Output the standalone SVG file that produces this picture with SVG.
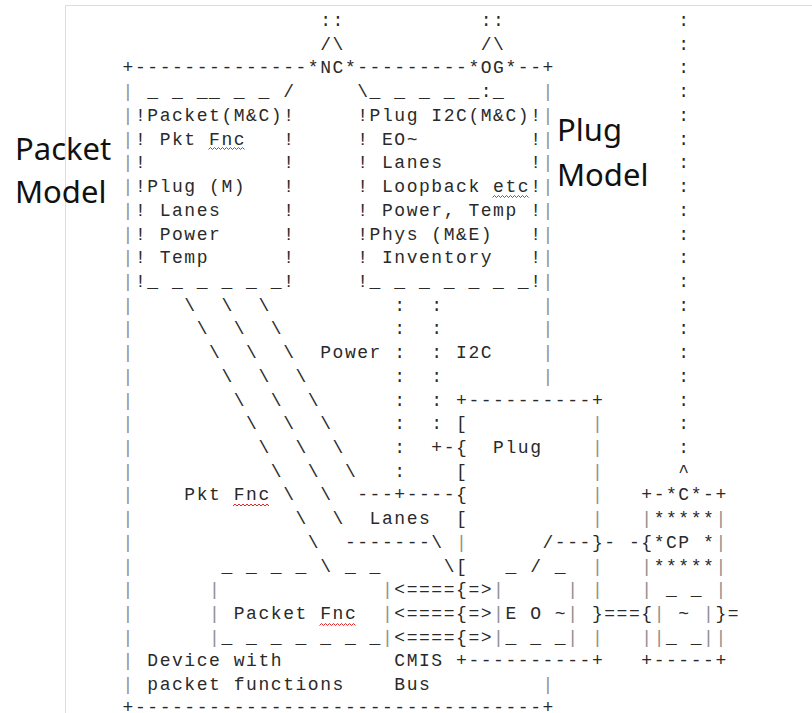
<svg xmlns="http://www.w3.org/2000/svg" width="812" height="713" viewBox="0 0 812 713" xml:space="preserve">
<style>
text{font-family:"Liberation Mono","DejaVu Sans Mono",monospace;font-size:18px;letter-spacing:1.55px;fill:#2a2a2a;white-space:pre}
.b{fill:#8f8f8f}
.lbl{font-family:"Noto Sans","Open Sans","Liberation Sans",sans-serif;font-size:31px;letter-spacing:0;fill:#111}
.sq{fill:none;stroke:#e3262a;stroke-width:1}
.frame{stroke:#dcdcdc;stroke-width:1;fill:none}
</style>
<defs>
<polyline id="wave" class="sq" points="0,1 2,-1 4,1 6,-1 8,1 10,-1 12,1 14,-1 16,1 18,-1 20,1 22,-1 24,1 26,-1 28,1 30,-1 32,1 34,-1 36,1"/>
</defs>
<rect width="812" height="713" fill="#ffffff"/>
<path class="frame" d="M65.5 713V5.5H812"/>

<g id="device">
<text x="122.6" y="73.4">+--------------</text>
<text x="357.25" y="73.4">---------</text>
<text x="517.8" y="73.4">--+</text>
<text class="b" x="122.6 122.6 122.6 122.6 122.6 122.6 122.6 122.6 122.6 122.6 122.6 122.6 122.6 122.6 122.6 122.6 122.6 122.6 122.6 122.6 122.6 122.6 122.6 122.6 122.6 122.6" y="97.2 120.9 144.6 168.3 192 215.8 239.5 263.2 286.9 310.6 334.4 358.1 381.8 405.5 429.2 453 476.7 500.4 524.1 547.8 571.6 595.3 619 642.7 666.4 690.2">||||||||||||||||||||||||||</text>
<text class="b" x="542.5 542.5 542.5 542.5 542.5 542.5 542.5 542.5 542.5 542.5 542.5 542.5 542.5 542.5" y="97.2 120.9 144.6 168.3 192 215.8 239.5 263.2 286.9 310.6 334.4 358.1 381.8 690.2">||||||||||||||</text>
<text x="122.6" y="713">+---------------------------------+</text>
<text x="147.3" y="666.4">Device with</text>
<text x="147.3" y="690.2">packet functions</text>
</g>

<g id="nc">
<text x="320.2" y="26">::</text>
<text x="320.2" y="49.7">/\</text>
<text x="307.85" y="73.4">*NC*</text>
</g>

<g id="og">
<text x="480.75" y="26">::</text>
<text x="480.75" y="49.7">/\</text>
<text x="468.4" y="73.4">*OG*</text>
</g>

<g id="packet-model">
<text class="lbl" x="15" y="160">Packet</text>
<text class="lbl" x="15" y="203">Model</text>
<text x="147.3" y="97.2">_ _ __ _ _</text>
<text x="134.95" y="120.9">!Packet(M&amp;C)!</text>
<text x="134.95" y="144.6">! Pkt Fnc   !</text>
<text x="134.95" y="168.3">!           !</text>
<text x="134.95" y="192">!Plug (M)   !</text>
<text x="134.95" y="215.8">! Lanes     !</text>
<text x="134.95" y="239.5">! Power     !</text>
<text x="134.95" y="263.2">! Temp      !</text>
<text x="134.95" y="286.9">!_ _ _ _ _ _!</text>
<use href="#wave" x="208.5" y="148.5"/>
</g>

<g id="plug-model">
<text class="lbl" x="557" y="141">Plug</text>
<text class="lbl" x="557" y="186">Model</text>
<text x="369.6" y="97.2">_ _ _ _ _ _</text>
<text x="357.25" y="120.9">!Plug I2C(M&amp;C)!</text>
<text x="357.25" y="144.6">! EO~         !</text>
<text x="357.25" y="168.3">! Lanes       !</text>
<text x="357.25" y="192">! Loopback etc!</text>
<text x="357.25" y="215.8">! Power, Temp !</text>
<text x="357.25" y="239.5">!Phys (M&amp;E)   !</text>
<text x="357.25" y="263.2">! Inventory   !</text>
<text x="357.25" y="286.9">!_ _ _ _ _ _ _!</text>
<use href="#wave" x="492.5" y="196.5"/>
</g>

<g id="packet-fnc">
<text x="221.4" y="571.6">_ _ _ _</text>
<text x="344.9" y="571.6">_ _</text>
<text class="b" x="209.05 209.05 209.05" y="595.3 619 642.7">|||</text>
<text class="b" x="381.95 381.95 381.95" y="595.3 619 642.7">|||</text>
<text x="233.75" y="619">Packet Fnc</text>
<text x="221.4" y="642.7">_ _ _ _ _ _ _</text>
<use href="#wave" x="319.5" y="624.5"/>
</g>

<g id="plug">
<text x="456.05" y="405.5">+----------+</text>
<text x="456.05 456.05 456.05 456.05 456.05" y="429.2 453 476.7 500.4 524.1">[{[{[</text>
<text class="b" x="456.05" y="547.8">|</text>
<text x="456.05 456.05 456.05 456.05" y="571.6 595.3 619 642.7">[{{{</text>
<text x="493.1" y="453">Plug</text>
<text class="b" x="591.9 591.9 591.9 591.9 591.9" y="429.2 453 476.7 500.4 524.1">|||||</text>
<text x="591.9" y="547.8">}</text>
<text class="b" x="591.9 591.9" y="571.6 595.3">||</text>
<text x="591.9" y="619">}</text>
<text class="b" x="591.9" y="642.7">|</text>
<text x="456.05" y="666.4">+----------+</text>
</g>

<g id="eo">
<text x="505.45" y="571.6">_</text>
<text x="554.85" y="571.6">_</text>
<text class="b" x="493.1 567.2" y="595.3 595.3">||</text>
<text x="493.1" y="619"><tspan class="b">|</tspan>E O ~<tspan class="b">|</tspan></text>
<text x="493.1" y="642.7"><tspan class="b">|</tspan>_ _ _<tspan class="b">|</tspan></text>
</g>

<g id="cp">
<text x="641.3" y="500.4">+-*C*-+</text>
<text x="641.3" y="524.1"><tspan class="b">|</tspan>*****<tspan class="b">|</tspan></text>
<text x="641.3" y="547.8">{*CP *<tspan class="b">|</tspan></text>
<text x="641.3" y="571.6"><tspan class="b">|</tspan>*****<tspan class="b">|</tspan></text>
<text x="641.3" y="595.3"><tspan class="b">|</tspan> _ _ <tspan class="b">|</tspan></text>
<text x="641.3" y="619">{<tspan class="b">|</tspan> ~ <tspan class="b">|</tspan>}</text>
<text x="641.3" y="642.7"><tspan class="b">||</tspan>_ _<tspan class="b">||</tspan></text>
<text x="641.3" y="666.4">+-----+</text>
</g>

<g id="connectors">
<text x="283.15" y="97.2">/</text>
<text x="357.25" y="97.2">\</text>
<text x="480.75" y="97.2">:</text>
<text x="678.35 678.35 678.35 678.35 678.35 678.35 678.35 678.35 678.35 678.35 678.35 678.35 678.35 678.35 678.35 678.35 678.35 678.35 678.35 678.35" y="26 49.7 73.4 97.2 120.9 144.6 168.3 192 215.8 239.5 263.2 286.9 310.6 334.4 358.1 381.8 405.5 429.2 453 476.7">:::::::::::::::::::^</text>
<text x="184.35 196.7 209.05 221.4 233.75 246.1 258.45 270.8 283.15 295.5 307.85 320.2" y="310.6 334.4 358.1 381.8 405.5 429.2 453 476.7 500.4 524.1 547.8 571.6">\\\\\\\\\\\\</text>
<text x="221.4 233.75 246.1 258.45 270.8 283.15 295.5 307.85 320.2 332.55" y="310.6 334.4 358.1 381.8 405.5 429.2 453 476.7 500.4 524.1">\\\\\\\\\\</text>
<text x="344.9" y="547.8">-------\</text>
<text x="443.7" y="571.6">\</text>
<text x="258.45 270.8 283.15 295.5 307.85 320.2 332.55 344.9" y="310.6 334.4 358.1 381.8 405.5 429.2 453 476.7">\\\\\\\\</text>
<text x="357.25" y="500.4">---+----</text>
<text x="394.3 394.3 394.3 394.3 394.3 394.3 394.3 394.3" y="310.6 334.4 358.1 381.8 405.5 429.2 453 476.7">::::::::</text>
<text x="431.35 431.35 431.35 431.35 431.35 431.35" y="310.6 334.4 358.1 381.8 405.5 429.2">::::::</text>
<text x="431.35" y="453">+-</text>
<text x="542.5" y="547.8">/---</text>
<text x="604.25" y="547.8">- -</text>
<text x="530.15" y="571.6">/</text>
<text x="394.3" y="595.3">&lt;====</text>
<text x="394.3" y="619">&lt;====</text>
<text x="394.3" y="642.7">&lt;====</text>
<text x="468.4" y="595.3">=&gt;</text>
<text x="468.4" y="619">=&gt;</text>
<text x="468.4" y="642.7">=&gt;</text>
<text x="604.25" y="619">===</text>
<text x="727.75" y="619">=</text>
<text x="320.2" y="358.1">Power</text>
<text x="456.05" y="358.1">I2C</text>
<text x="184.35" y="500.4">Pkt Fnc</text>
<use href="#wave" x="233" y="505"/>
<text x="369.6" y="524.1">Lanes</text>
<text x="394.3" y="666.4">CMIS</text>
<text x="394.3" y="690.2">Bus</text>
</g>
</svg>
